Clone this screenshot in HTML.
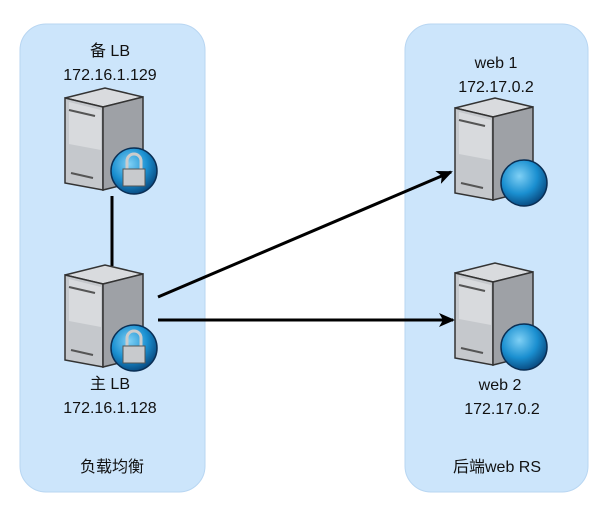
<!DOCTYPE html>
<html><head><meta charset="utf-8"><style>
html,body{margin:0;padding:0;background:#fff;}
svg{display:block;}
text{font-family:"Liberation Sans","Noto Sans CJK SC",sans-serif;font-size:16px;fill:#111;text-anchor:middle;}
</style></head><body>
<svg width="607" height="524" viewBox="0 0 607 524">
<defs>
<g id="srv">
<polygon points="0,10 40,0 78,9 38,19" fill="#d9dbde" stroke="#333" stroke-width="1.5"/>
<polygon points="0,10 38,19 38,102 0,95" fill="#c5c8cc" stroke="#333" stroke-width="1.5"/>
<polygon points="4,14 36,22 36,62 4,56" fill="#d8dadd"/>
<polygon points="38,19 78,9 78,92 38,102" fill="#9ea1a6" stroke="#333" stroke-width="1.5"/>
<line x1="4" y1="22" x2="30" y2="28" stroke="#555" stroke-width="2"/>
<line x1="6" y1="85" x2="28" y2="90" stroke="#555" stroke-width="2"/>
</g>
<radialGradient id="gl" cx="40%" cy="35%" r="65%"><stop offset="0" stop-color="#7fd0f5"/><stop offset="0.6" stop-color="#1a8fd0"/><stop offset="1" stop-color="#0a4f86"/></radialGradient>
<marker id="ar" markerWidth="16" markerHeight="14" refX="14" refY="7" orient="auto" markerUnits="userSpaceOnUse" viewBox="0 0 16 14"><path d="M0,0 L16,7 L0,14 L4,7 Z" fill="#000"/></marker>
</defs>
<rect x="20" y="24" width="185" height="468" rx="26" fill="#cce5fb" stroke="#b8d6f2"/>
<rect x="405" y="24" width="183" height="468" rx="26" fill="#cce5fb" stroke="#b8d6f2"/>

<line x1="112" y1="196" x2="112" y2="266" stroke="#000" stroke-width="3"/>
<line x1="158" y1="297" x2="451" y2="172" stroke="#000" stroke-width="3" marker-end="url(#ar)"/>
<line x1="158" y1="320" x2="453" y2="320" stroke="#000" stroke-width="3" marker-end="url(#ar)"/>

<use href="#srv" x="65" y="88"/>
<use href="#srv" x="65" y="265"/>
<use href="#srv" x="455" y="98"/>
<use href="#srv" x="455" y="263"/>

<g transform="translate(134,171)"><circle r="23" fill="url(#gl)" stroke="#0a2f55" stroke-width="1.5"/>
<path d="M-7,-2 v-8 a7,7 0 0 1 14,0 v8" fill="none" stroke="#ccc" stroke-width="3"/>
<rect x="-11" y="-2" width="22" height="17" fill="#c8cacd" stroke="#555"/></g>
<g transform="translate(134,348)"><circle r="23" fill="url(#gl)" stroke="#0a2f55" stroke-width="1.5"/>
<path d="M-7,-2 v-8 a7,7 0 0 1 14,0 v8" fill="none" stroke="#ccc" stroke-width="3"/>
<rect x="-11" y="-2" width="22" height="17" fill="#c8cacd" stroke="#555"/></g>
<circle cx="524" cy="183" r="23" fill="url(#gl)" stroke="#0a2f55" stroke-width="1.5"/>
<circle cx="524" cy="347" r="23" fill="url(#gl)" stroke="#0a2f55" stroke-width="1.5"/>

<text x="110" y="56">备 LB</text>
<text x="110" y="80">172.16.1.129</text>
<text x="110" y="389">主 LB</text>
<text x="110" y="413">172.16.1.128</text>
<text x="112" y="472">负载均衡</text>
<text x="496" y="68">web 1</text>
<text x="496" y="92">172.17.0.2</text>
<text x="500" y="390">web 2</text>
<text x="502" y="414">172.17.0.2</text>
<text x="497" y="472">后端web RS</text>
</svg>
</body></html>
